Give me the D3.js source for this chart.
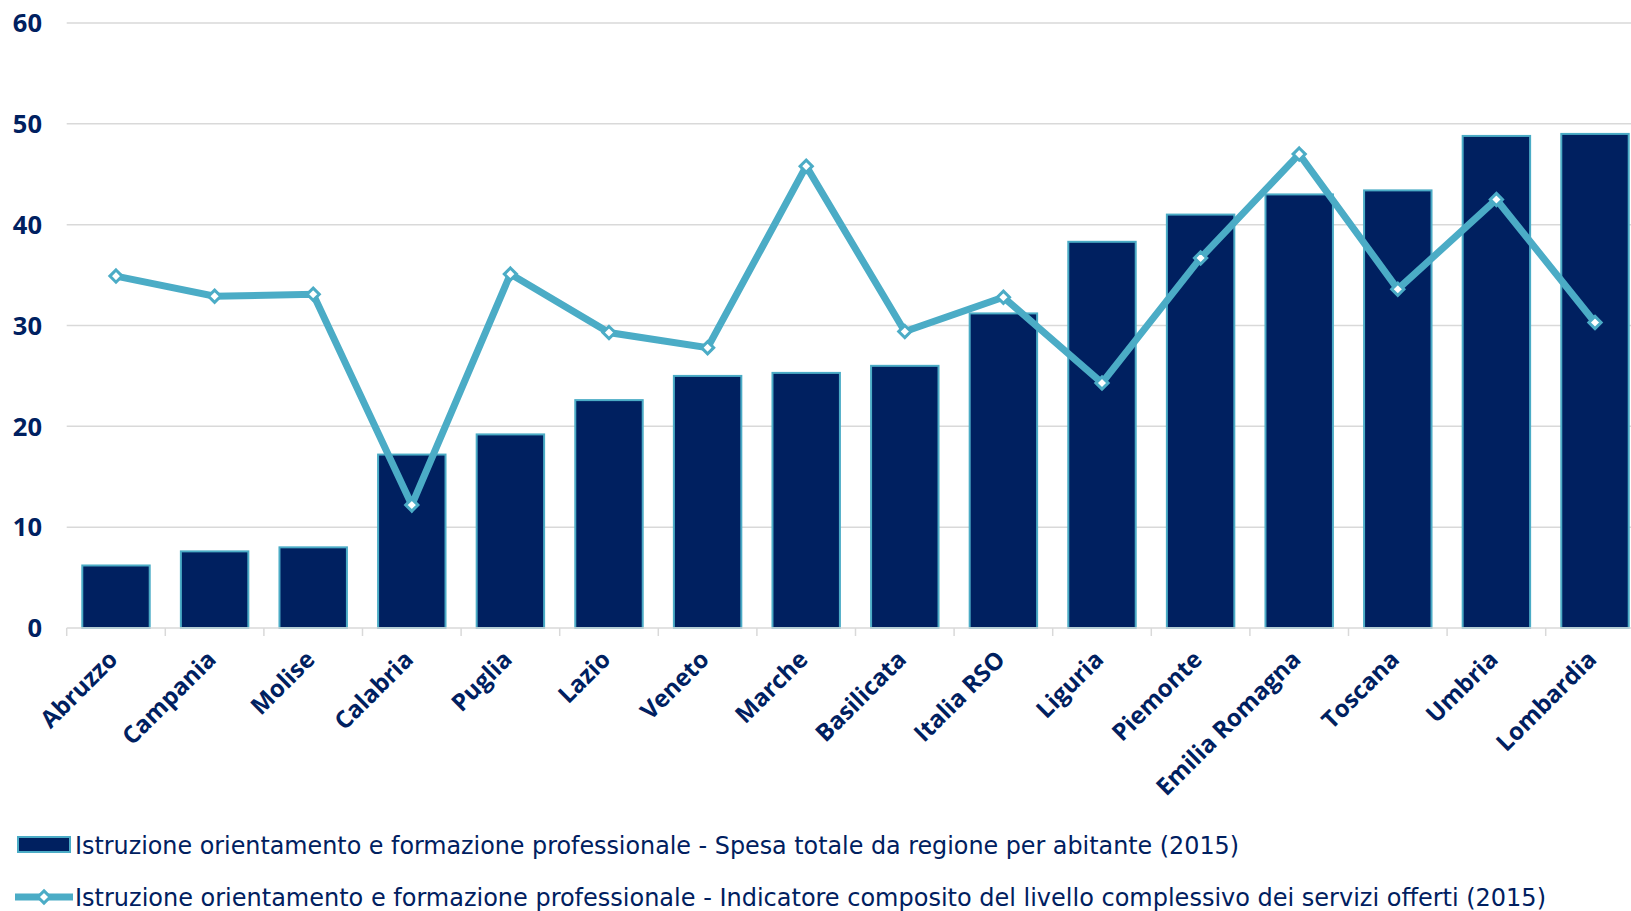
<!DOCTYPE html>
<html>
<head>
<meta charset="utf-8">
<script src="https://cdn.jsdelivr.net/npm/d3@7"></script>
<style>
  html, body { margin: 0; padding: 0; background: #ffffff; }
  svg { display: block; }
</style>
</head>
<body>
<svg id="chart" width="1631" height="911"></svg>
<script>
// ---- data ----
const categories = ["Abruzzo", "Campania", "Molise", "Calabria", "Puglia", "Lazio", "Veneto", "Marche",
  "Basilicata", "Italia RSO", "Liguria", "Piemonte", "Emilia Romagna", "Toscana", "Umbria", "Lombardia"];
const spesaValues = [6.2, 7.6, 8.0, 17.2, 19.2, 22.6, 25.0, 25.3, 26.0, 31.2, 38.3, 41.0, 43.0, 43.4, 48.8, 49.0];
const indicatoreValues = [34.9, 32.9, 33.1, 12.2, 35.1, 29.3, 27.8, 45.8, 29.4, 32.8, 24.3, 36.7, 47.0, 33.6, 42.5, 30.3];
const yTicks = [0, 10, 20, 30, 40, 50, 60];
const seriesNames = [
  "Istruzione orientamento e formazione professionale - Spesa totale da regione per abitante (2015)",
  "Istruzione orientamento e formazione professionale - Indicatore composito del livello complessivo dei servizi offerti (2015)"
];

(function () {
// ---- layout ----
const NAVY = "#002060";
const BLUE = "#4bacc6";
const GRID = "#d9d9d9";
const svg = d3.select("#chart");
const pLeft = 66.7, pRight = 1644.3, pTop = 23, pBottom = 628;

const x = d3.scaleBand().domain(categories).range([pLeft, pRight]).paddingInner(0.316).paddingOuter(0.158);
const y = d3.scaleLinear().domain([0, 60]).range([pBottom, pTop]);

// gridlines
svg.append("g").selectAll("line").data(yTicks.filter(d => d > 0)).join("line")
  .attr("x1", pLeft).attr("x2", 1631)
  .attr("y1", d => y(d)).attr("y2", d => y(d))
  .attr("stroke", GRID).attr("stroke-width", 1.5);

// y labels
svg.append("g").selectAll("text").data(yTicks).join("text")
  .attr("x", 42).attr("y", d => y(d)).attr("dy", "0.36em")
  .attr("text-anchor", "end")
  .attr("font-family", "'Open Sans', sans-serif").attr("font-weight", 700)
  .attr("font-size", 25.5).attr("fill", NAVY)
  .text(d => d);

// bars
svg.append("g").selectAll("rect").data(categories).join("rect")
  .attr("x", d => x(d)).attr("width", x.bandwidth())
  .attr("y", (d, i) => y(spesaValues[i]))
  .attr("height", (d, i) => y(0) - y(spesaValues[i]))
  .attr("fill", NAVY).attr("stroke", BLUE).attr("stroke-width", 2);

// x axis line + ticks
const step = x.step();
const axis = svg.append("g");
axis.append("line").attr("x1", pLeft).attr("x2", 1631).attr("y1", pBottom).attr("y2", pBottom)
  .attr("stroke", GRID).attr("stroke-width", 1.5);
axis.selectAll("line.tick").data(d3.range(categories.length + 1)).join("line")
  .attr("class", "tick")
  .attr("x1", i => pLeft + i * step).attr("x2", i => pLeft + i * step)
  .attr("y1", pBottom).attr("y2", pBottom + 8)
  .attr("stroke", GRID).attr("stroke-width", 1.5);

// x labels
axis.selectAll("text").data(categories).join("text")
  .attr("transform", d => `translate(${x(d) + x.bandwidth() / 2 + 3},${pBottom + 33}) rotate(-45)`)
  .attr("text-anchor", "end")
  .attr("font-family", "'Open Sans', sans-serif").attr("font-weight", 700)
  .attr("font-size", 24).attr("fill", NAVY)
  .text(d => d);

// line
const cx = (d, i) => x(categories[i]) + x.bandwidth() / 2;
const line = d3.line().x((d, i) => cx(d, i)).y(d => y(d));
svg.append("path").datum(indicatoreValues)
  .attr("d", line).attr("fill", "none").attr("stroke", BLUE)
  .attr("stroke-width", 7).attr("stroke-linejoin", "miter");

const diamond = d3.symbol().type(d3.symbolDiamond2).size(95);
svg.append("g").selectAll("path").data(indicatoreValues).join("path")
  .attr("transform", (d, i) => `translate(${cx(d, i)},${y(d)})`)
  .attr("d", diamond)
  .attr("fill", "#ffffff").attr("stroke", BLUE).attr("stroke-width", 3);

// legend
const lg = svg.append("g");
lg.append("rect").attr("x", 18).attr("y", 837).attr("width", 52).attr("height", 15)
  .attr("fill", NAVY).attr("stroke", BLUE).attr("stroke-width", 2);
lg.append("line").attr("x1", 15).attr("x2", 73).attr("y1", 897).attr("y2", 897)
  .attr("stroke", BLUE).attr("stroke-width", 7);
lg.append("path").attr("transform", "translate(44,897)").attr("d", diamond)
  .attr("fill", "#ffffff").attr("stroke", BLUE).attr("stroke-width", 3);

const legendWidths = [1164, 1471];
const legendY = [845, 897];
seriesNames.forEach((name, i) => {
  const t = lg.append("text").attr("x", 75).attr("y", legendY[i]).attr("dy", "0.36em")
    .attr("font-family", "'DejaVu Sans Condensed', 'DejaVu Sans', sans-serif")
    .attr("font-size", 25).attr("fill", NAVY)
    .text(name);
  const len = t.node().getComputedTextLength();
  if (Math.abs(len - legendWidths[i]) > 4) {
    t.attr("textLength", legendWidths[i]).attr("lengthAdjust", "spacingAndGlyphs");
  }
});
})();
</script>
</body>
</html>
